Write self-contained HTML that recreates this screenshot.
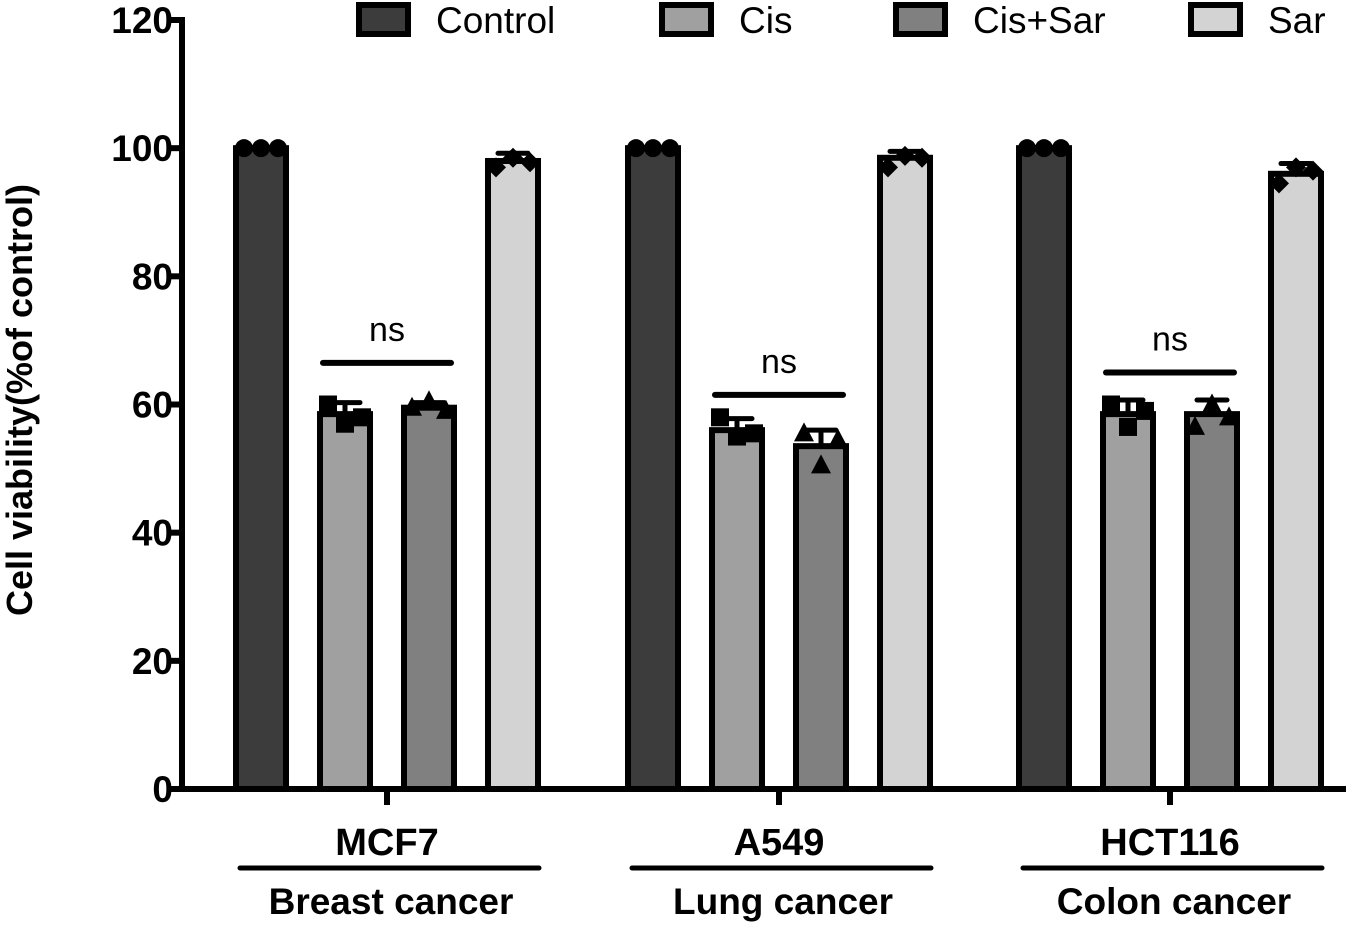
<!DOCTYPE html>
<html><head><meta charset="utf-8"><style>
body{margin:0;background:#fff;}
svg text{font-family:"Liberation Sans",Arial,sans-serif;}
</style></head><body>
<svg id="chart" width="1355" height="925" viewBox="0 0 1355 925" xmlns="http://www.w3.org/2000/svg"></svg>
<script>
const categories=["MCF7","A549","HCT116"];
const subtitles=["Breast cancer","Lung cancer","Colon cancer"];
const seriesNames=["Control","Cis","Cis+Sar","Sar"];
const controlVals=[100,100,100];
const cisVals=[58.5,56,58.5];
const cisSarVals=[59.5,53.5,58.5];
const sarVals=[98,98.5,96];
const cisSD=[1.8,1.8,2.2];
const cisSarSD=[0.8,2.5,2.2];
const sarSD=[1.2,1.0,1.6];
const controlPts=[[100,100,100],[100,100,100],[100,100,100]];
const cisPts=[[60,57,58],[58,55,55.5],[60,56.5,59]];
const cisSarPts=[[59.5,60.5,59],[55.5,50.5,54.5],[56.5,60,58]];
const sarPts=[[97,98.5,97.8],[97,98.8,98.5],[94.5,97,96.5]];
const yTicks=[0,20,40,60,80,100,120];
const nsY=[66.5,61.5,65];

const svg=document.getElementById('chart');
const NS='http://www.w3.org/2000/svg';
function el(t,a,p){const e=document.createElementNS(NS,t);for(const k in a)e.setAttribute(k,a[k]);(p||svg).appendChild(e);return e;}
const y=v=>789-v*(769/120);
const groupCenters=[387,779,1170];
const barOff=[-126,-42,42,126];
const colors=["#3c3c3c","#a0a0a0","#808080","#d3d3d3"];
const vals=[controlVals,cisVals,cisSarVals,sarVals];
const sds=[null,cisSD,cisSarSD,sarSD];
const pts=[controlPts,cisPts,cisSarPts,sarPts];
const BW=50;

let a=el('line',{x1:182,y1:17,x2:182,y2:792,stroke:'#000','stroke-width':6});

a=el('line',{x1:179,y1:789,x2:1346,y2:789,stroke:'#000','stroke-width':6});

yTicks.forEach(t=>{
 let l=el('line',{x1:170,y1:y(t),x2:182,y2:y(t),stroke:'#000','stroke-width':6});
 
 let tx=el('text',{x:173,y:y(t)+13,'text-anchor':'end','font-size':37,'font-weight':'bold'});
 tx.textContent=t;
});
let yt=el('text',{transform:'translate(32,400) rotate(-90)','text-anchor':'middle','font-size':36,'font-weight':'bold'});
yt.textContent='Cell viability(%of control)';

function marker(k,cx,cy){
 let m;
 if(k===0)m=el('circle',{cx:cx,cy:cy,r:9,fill:'#000'});
 else if(k===1)m=el('rect',{x:cx-9,y:cy-9,width:18,height:18,fill:'#000'});
 else if(k===2)m=el('polygon',{points:`${cx},${cy-11} ${cx+10},${cy+8} ${cx-10},${cy+8}`,fill:'#000'});
 else m=el('polygon',{points:`${cx},${cy-10} ${cx+10},${cy} ${cx},${cy+10} ${cx-10},${cy}`,fill:'#000'});
 
}
categories.forEach((c,g)=>{
 const gc=groupCenters[g];
 let tk=el('line',{x1:gc,y1:789,x2:gc,y2:805,stroke:'#000','stroke-width':6});
 
 for(let s=0;s<4;s++){
  const cx=gc+barOff[s],v=vals[s][g];
  let r=el('rect',{x:cx-BW/2,y:y(v),width:BW,height:789-y(v),fill:colors[s],stroke:'#000','stroke-width':6});
  
  
  if(sds[s]){
   const top=y(v+sds[s][g]);
   let e=el('path',{d:`M${cx},${y(v)} V${top} M${cx-15},${top} H${cx+15}`,stroke:'#000','stroke-width':5,fill:'none','stroke-linecap':'round'});
   
  }
  [-17,0,17].forEach((o,i)=>marker(s,cx+o,y(pts[s][g][i])));
 }
 const x1=gc+barOff[1]-22,x2=gc+barOff[2]+22,ny=y(nsY[g]);
 let nl=el('line',{x1:x1,y1:ny,x2:x2,y2:ny,stroke:'#000','stroke-width':6,'stroke-linecap':'round'});
 
 let nt=el('text',{x:gc,y:ny-22,'text-anchor':'middle','font-size':34});
 nt.textContent='ns';
 let ct=el('text',{x:gc,y:855,'text-anchor':'middle','font-size':38,'font-weight':'bold'});
 ct.textContent=c;
 let ul=el('line',{x1:gc-147,y1:868,x2:gc+152,y2:868,stroke:'#000','stroke-width':5,'stroke-linecap':'round'});
 
 let st=el('text',{x:gc+4,y:914,'text-anchor':'middle','font-size':37,'font-weight':'bold'});
 st.textContent=subtitles[g];
});
const legX=[356,659,893,1188];
seriesNames.forEach((n,i)=>{
 let r=el('rect',{x:legX[i]+3,y:5,width:49,height:29,fill:colors[i],stroke:'#000','stroke-width':6});
 
 let t=el('text',{x:legX[i]+80,y:33,'font-size':37});
 t.textContent=n;
});
</script>
</body></html>
